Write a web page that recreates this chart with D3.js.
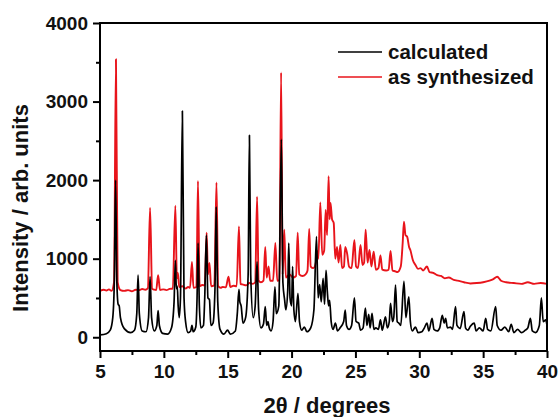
<!DOCTYPE html>
<html>
<head>
<meta charset="utf-8">
<script src="https://cdn.jsdelivr.net/npm/d3@7/dist/d3.min.js"></script>
<style>
    body { margin: 0; background: #fff; }
    svg { font-family: 'Liberation Sans', Arial, sans-serif; font-weight: bold; }
</style>
</head>
<body>
<svg id="chart" width="560" height="417"></svg>
<script>
// 2theta (deg), intensity
var calculated = [
    [5.0, 30], [5.5, 45], [5.8, 90], [6.0, 250], [6.12, 700], [6.22, 2000], [6.32, 700], [6.42, 420], [6.5, 400], [6.6, 250],
    [6.9, 110], [7.4, 60], [7.7, 90], [7.88, 300], [7.98, 790], [8.08, 300], [8.3, 80], [8.6, 70], [8.8, 250], [8.92, 770],
    [9.04, 250], [9.25, 80], [9.45, 150], [9.55, 340], [9.65, 150], [9.9, 50], [10.3, 40], [10.6, 120], [10.8, 450], [10.9, 980],
    [10.98, 620], [11.05, 650], [11.12, 400], [11.2, 250], [11.3, 500], [11.45, 2880], [11.58, 500], [11.7, 200], [11.9, 60],
    [12.1, 80], [12.2, 150], [12.3, 70], [12.5, 130], [12.6, 500], [12.68, 1200], [12.78, 400], [12.9, 120], [13.1, 150],
    [13.2, 500], [13.33, 1300], [13.45, 500], [13.57, 480], [13.68, 150], [13.85, 180], [14.0, 600], [14.1, 1660], [14.22, 450],
    [14.4, 100], [14.7, 40], [14.99, 90], [15.2, 40], [15.6, 80], [15.75, 300], [15.88, 610], [15.95, 450], [16.05, 400],
    [16.2, 180], [16.4, 250], [16.6, 800], [16.7, 2570], [16.8, 800], [17.0, 250], [17.15, 400], [17.3, 960], [17.42, 350],
    [17.6, 120], [17.8, 170], [17.94, 390], [18.05, 150], [18.15, 200], [18.25, 120], [18.4, 80], [18.55, 200], [18.7, 640],
    [18.8, 300], [19.0, 400], [19.2, 2520], [19.32, 700], [19.46, 470], [19.55, 350], [19.7, 600], [19.78, 1200], [19.88, 500],
    [20.0, 400], [20.08, 900], [20.18, 350], [20.3, 200], [20.5, 560], [20.62, 200], [20.8, 90], [21.0, 130], [21.2, 70],
    [21.5, 120], [21.75, 350], [21.95, 1280], [22.08, 500], [22.2, 670], [22.32, 450], [22.47, 750], [22.58, 420], [22.7, 850],
    [22.8, 580], [22.9, 400], [22.98, 470], [23.1, 200], [23.25, 100], [23.43, 180], [23.6, 80], [23.8, 120], [24.08, 200],
    [24.2, 345], [24.3, 150], [24.5, 100], [24.7, 150], [24.92, 500], [25.05, 200], [25.26, 180], [25.4, 90], [25.6, 120],
    [25.78, 370], [25.9, 150], [26.04, 290], [26.15, 120], [26.3, 305], [26.45, 100], [26.6, 120], [26.8, 100], [26.96, 220],
    [27.1, 90], [27.35, 260], [27.5, 120], [27.65, 200], [27.75, 430], [27.9, 200], [28.0, 250], [28.14, 665], [28.27, 200],
    [28.4, 180], [28.55, 150], [28.8, 710], [28.95, 250], [29.18, 515], [29.3, 200], [29.45, 80], [29.7, 130], [29.9, 60],
    [30.2, 70], [30.4, 120], [30.6, 180], [30.75, 80], [31.0, 240], [31.15, 100], [31.4, 80], [31.6, 120], [31.8, 280],
    [31.95, 180], [32.06, 240], [32.2, 120], [32.45, 130], [32.6, 100], [32.84, 390], [32.95, 150], [33.2, 110], [33.5, 325],
    [33.62, 120], [33.8, 90], [34.0, 140], [34.3, 180], [34.45, 80], [34.7, 120], [35.0, 80], [35.2, 240], [35.35, 100],
    [35.6, 80], [35.98, 390], [36.1, 150], [36.4, 90], [36.7, 130], [37.0, 70], [37.2, 165], [37.4, 60], [37.7, 100],
    [38.0, 60], [38.3, 90], [38.5, 120], [38.7, 240], [38.85, 80], [39.1, 60], [39.4, 150], [39.56, 500], [39.7, 200],
    [39.9, 220], [40.0, 150]
];

var synthesized = [
    [5.0, 590], [5.3, 605], [5.5, 595], [5.7, 610], [5.9, 590], [6.1, 700], [6.25, 3540], [6.38, 700], [6.6, 600], [6.9, 590],
    [7.2, 600], [7.5, 585], [7.8, 605], [8.1, 600], [8.3, 615], [8.55, 605], [8.75, 625], [8.92, 1650], [9.08, 620], [9.25, 605],
    [9.4, 600], [9.55, 790], [9.7, 600], [9.95, 610], [10.2, 600], [10.45, 615], [10.7, 620], [10.9, 1675], [11.02, 750],
    [11.1, 820], [11.2, 640], [11.45, 650], [11.7, 620], [11.9, 640], [12.05, 630], [12.2, 960], [12.32, 630], [12.55, 640],
    [12.67, 1990], [12.8, 650], [13.0, 665], [13.2, 660], [13.35, 1330], [13.45, 800], [13.57, 945], [13.7, 650], [13.95, 660],
    [14.12, 1970], [14.25, 650], [14.45, 630], [14.6, 640], [14.85, 635], [15.06, 770], [15.2, 640], [15.45, 655], [15.7, 650],
    [15.88, 1410], [16.0, 680], [16.2, 670], [16.45, 660], [16.7, 690], [16.95, 680], [17.15, 700], [17.3, 1790], [17.42, 720],
    [17.6, 700], [17.8, 720], [17.94, 1150], [18.05, 760], [18.2, 900], [18.32, 720], [18.55, 720], [18.73, 1200], [18.88, 720],
    [19.05, 730], [19.18, 3370], [19.3, 800], [19.43, 1370], [19.55, 760], [19.7, 780], [19.85, 800], [20.1, 760], [20.35, 780],
    [20.48, 1330], [20.6, 800], [20.85, 780], [21.1, 800], [21.25, 850], [21.38, 1380], [21.5, 900], [21.7, 880], [21.9, 950],
    [22.0, 1100], [22.1, 1000], [22.25, 1715], [22.4, 1050], [22.55, 1100], [22.67, 1620], [22.78, 1300], [22.9, 2050],
    [22.98, 1500], [23.05, 1710], [23.17, 1500], [23.3, 1455], [23.42, 1000], [23.56, 1150], [23.68, 950], [23.82, 1175],
    [23.95, 880], [24.1, 900], [24.2, 1150], [24.35, 1065], [24.5, 900], [24.7, 880], [24.92, 1240], [25.05, 900], [25.2, 880],
    [25.4, 1175], [25.55, 920], [25.68, 950], [25.8, 1370], [25.95, 950], [26.1, 1110], [26.25, 900], [26.43, 1090],
    [26.6, 860], [26.8, 880], [26.96, 1040], [27.1, 860], [27.4, 850], [27.6, 860], [27.75, 1100], [27.9, 850], [28.1, 840],
    [28.3, 830], [28.55, 900], [28.7, 1200], [28.8, 1470], [28.92, 1300], [29.05, 1280], [29.2, 1150], [29.3, 1110],
    [29.5, 980], [29.7, 920], [29.9, 870], [30.1, 880], [30.3, 850], [30.6, 900], [30.8, 830], [31.1, 820], [31.4, 790],
    [31.7, 780], [32.0, 750], [32.3, 760], [32.7, 730], [33.0, 720], [33.5, 700], [34.0, 685], [34.5, 690], [35.0, 700],
    [35.5, 720], [35.8, 740], [36.1, 770], [36.4, 720], [36.8, 700], [37.4, 690], [38.0, 680], [38.5, 700], [39.0, 680],
    [39.5, 690], [40.0, 680]
];

var xTicks = [5, 10, 15, 20, 25, 30, 35, 40];
var yTicks = [0, 1000, 2000, 3000, 4000];
var seriesNames = ['calculated', 'as synthesized'];
var seriesColors = ['#000000', '#e8141b'];

var svg = d3.select('#chart'),
    margin = { top: 23, right: 13, bottom: 66, left: 100 },
    width = 560 - margin.left - margin.right,
    height = 417 - margin.top - margin.bottom;

var x = d3.scaleLinear().domain([5, 40]).range([margin.left, margin.left + width]);
var y = d3.scaleLinear().domain([-175, 4000]).range([margin.top + height, margin.top]);

var line = d3.line()
    .x(function(d) { return x(d[0]); })
    .y(function(d) { return y(d[1]); })
    .curve(d3.curveMonotoneX);

var plot = svg.append('g');

plot.append('path')
    .datum(synthesized)
    .attr('fill', 'none')
    .attr('stroke', seriesColors[1])
    .attr('stroke-width', 1.9)
    .attr('stroke-linejoin', 'round')
    .attr('d', line);

plot.append('path')
    .datum(calculated)
    .attr('fill', 'none')
    .attr('stroke', seriesColors[0])
    .attr('stroke-width', 1.7)
    .attr('stroke-linejoin', 'round')
    .attr('d', line);

// minor ticks first, major drawn by the axes
var minorX = d3.range(7.5, 40, 5);
var minorY = d3.range(500, 4000, 1000);

svg.append('g')
    .attr('transform', 'translate(0,' + (margin.top + height) + ')')
    .call(d3.axisBottom(x).tickValues(minorX).tickSize(4).tickFormat(''))
    .call(function(g) { g.select('.domain').remove(); })
    .selectAll('line').attr('stroke-width', 2);

svg.append('g')
    .attr('transform', 'translate(' + margin.left + ',0)')
    .call(d3.axisLeft(y).tickValues(minorY).tickSize(4).tickFormat(''))
    .call(function(g) { g.select('.domain').remove(); })
    .selectAll('line').attr('stroke-width', 2);

var xAxis = svg.append('g')
    .attr('transform', 'translate(0,' + (margin.top + height) + ')')
    .call(d3.axisBottom(x).tickValues(xTicks).tickFormat(d3.format('d')).tickSize(7).tickPadding(7).tickSizeOuter(0));

var yAxis = svg.append('g')
    .attr('transform', 'translate(' + margin.left + ',0)')
    .call(d3.axisLeft(y).tickValues(yTicks).tickFormat(d3.format('d')).tickSize(7).tickPadding(5).tickSizeOuter(0));

[xAxis, yAxis].forEach(function(g) {
    g.select('.domain').remove();
    g.selectAll('line').attr('stroke-width', 2);
    g.selectAll('text')
        .attr('font-family', "'Liberation Sans', Arial, sans-serif")
        .attr('font-weight', 'bold')
        .attr('font-size', 19)
        .attr('fill', '#111');
});

// frame
svg.append('rect')
    .attr('x', margin.left)
    .attr('y', margin.top)
    .attr('width', width)
    .attr('height', height)
    .attr('fill', 'none')
    .attr('stroke', '#000')
    .attr('stroke-width', 2);

svg.append('text')
    .attr('x', 327)
    .attr('y', 413)
    .attr('text-anchor', 'middle')
    .attr('font-size', 22)
    .attr('fill', '#111')
    .text('2θ / degrees');

svg.append('text')
    .attr('transform', 'translate(28,208) rotate(-90)')
    .attr('text-anchor', 'middle')
    .attr('font-size', 22)
    .attr('fill', '#111')
    .text('Intensity / arb. units');

var legend = svg.append('g')
    .selectAll('g')
    .data(seriesNames)
    .enter().append('g')
    .attr('transform', function(d, i) { return 'translate(338,' + (52 + i * 25) + ')'; });

legend.append('line')
    .attr('x1', 0)
    .attr('x2', 44)
    .attr('stroke', function(d, i) { return seriesColors[i]; })
    .attr('stroke-width', 1.7);

legend.append('text')
    .attr('x', 50)
    .attr('y', 6.5)
    .attr('font-size', 20.5)
    .attr('fill', '#111')
    .text(function(d) { return d; });
</script>
</body>
</html>
